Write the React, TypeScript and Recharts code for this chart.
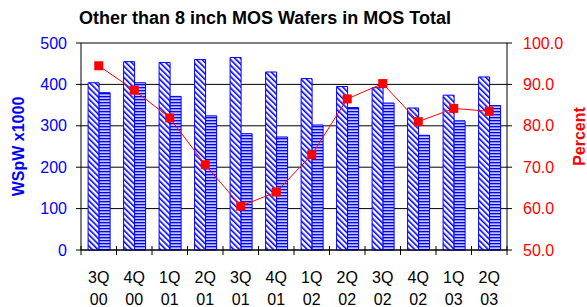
import React from 'react';
import {
  ComposedChart,
  Bar,
  Line,
  XAxis,
  YAxis,
  CartesianGrid,
} from 'recharts';

const QUARTERS = ['3Q 00', '4Q 00', '1Q 01', '2Q 01', '3Q 01', '4Q 01', '1Q 02', '2Q 02', '3Q 02', '4Q 02', '1Q 03', '2Q 03'];
const CAPACITY = [404, 455, 453, 460, 465, 430, 414, 395, 392, 343, 374, 418];
const STARTS = [380, 404, 371, 324, 281, 273, 302, 344, 355, 277, 312, 349];
const PERCENT = [94.5, 88.6, 81.9, 70.6, 60.6, 64.0, 73.0, 86.5, 90.2, 81.0, 84.2, 83.5];
const LEFT_TICKS = [0, 100, 200, 300, 400, 500];
const RIGHT_TICKS = [50, 60, 70, 80, 90, 100];

const data = QUARTERS.map((q, i) => ({
  quarter: q,
  capacity: CAPACITY[i],
  starts: STARTS[i],
  percent: PERCENT[i],
}));

const FONT = '"Liberation Sans", Arial, sans-serif';
const BLUE = '#0000ff';
const RED = '#ff0000';
const AXIS_Y = 250;
const BAND = (507 - 81) / QUARTERS.length;

function QuarterTick({ x, payload, index }: any) {
  const [top, bottom] = String(payload.value).split(' ');
  const last = index === QUARTERS.length - 1;
  return (
    <g>
      <line x1={x - BAND / 2} x2={x - BAND / 2} y1={AXIS_Y - 4} y2={AXIS_Y + 5} stroke="#000" />
      {last && <line x1={x + BAND / 2} x2={x + BAND / 2} y1={AXIS_Y - 4} y2={AXIS_Y + 5} stroke="#000" />}
      <text x={x} y={AXIS_Y + 33} textAnchor="middle" fill="#000" fontSize={16} fontFamily={FONT}>
        {top}
      </text>
      <text x={x} y={AXIS_Y + 55} textAnchor="middle" fill="#000" fontSize={16} fontFamily={FONT}>
        {bottom}
      </text>
    </g>
  );
}

function SquareDot({ cx, cy }: any) {
  if (cx == null || cy == null) return null;
  return <rect x={cx - 4.5} y={cy - 4.5} width={9} height={9} fill={RED} />;
}

function AxisTitle({ viewBox, text, color, posX, shiftY = 0 }: any) {
  const cy = viewBox.y + viewBox.height / 2 + shiftY;
  return (
    <text
      x={posX}
      y={cy}
      transform={`rotate(-90 ${posX} ${cy})`}
      textAnchor="middle"
      dominantBaseline="central"
      fill={color}
      fontSize={16}
      fontWeight="bold"
      fontFamily={FONT}
    >
      {text}
    </text>
  );
}

export default function App() {
  return (
    <div style={{ position: 'absolute', left: 0, top: 0, width: 587, height: 307, background: '#fff' }}>
      <div
        style={{
          position: 'absolute',
          left: 0,
          top: 8,
          width: 530,
          textAlign: 'center',
          fontFamily: FONT,
          fontWeight: 'bold',
          fontSize: 18,
          color: '#000',
        }}
      >
        Other than 8 inch MOS Wafers in MOS Total
      </div>
      <ComposedChart
        width={587}
        height={307}
        data={data}
        margin={{ top: 43, right: 0, bottom: 0, left: 0 }}
        barCategoryGap="20%"
        barGap={0}
      >
        <defs>
          <pattern id="diag" width="4" height="4" patternUnits="userSpaceOnUse" patternTransform="rotate(-45)">
            <rect width="4" height="4" fill="#fff" />
            <rect width="1.6" height="4" fill={BLUE} />
          </pattern>
          <pattern id="horiz" width="3" height="3" patternUnits="userSpaceOnUse">
            <rect width="3" height="3" fill="#c4c4ff" />
            <rect width="3" height="1.3" fill={BLUE} />
          </pattern>
        </defs>
        <CartesianGrid yAxisId="left" vertical={false} stroke="#000" />
        <XAxis
          dataKey="quarter"
          height={57}
          axisLine={{ stroke: '#000' }}
          tickLine={false}
          tick={<QuarterTick />}
          interval={0}
        />
        <YAxis
          yAxisId="left"
          width={81}
          domain={[0, 500]}
          ticks={LEFT_TICKS}
          axisLine={{ stroke: '#000' }}
          tickLine={{ stroke: '#000' }}
          tickSize={5}
          tickMargin={9}
          tick={{ fill: BLUE, fontSize: 16, fontFamily: FONT }}
          label={<AxisTitle text="WSpW x1000" color={BLUE} posX={18} />}
        />
        <YAxis
          yAxisId="right"
          orientation="right"
          width={80}
          domain={[50, 100]}
          ticks={RIGHT_TICKS}
          tickFormatter={(v: number) => v.toFixed(1)}
          axisLine={{ stroke: '#000' }}
          tickLine={{ stroke: '#000' }}
          tickSize={5}
          tickMargin={11}
          tick={{ fill: RED, fontSize: 16, fontFamily: FONT }}
          label={<AxisTitle text="Percent" color={RED} posX={579} shiftY={-10} />}
        />
        <Bar yAxisId="left" dataKey="capacity" fill="url(#diag)" stroke={BLUE} strokeWidth={1} isAnimationActive={false} />
        <Bar yAxisId="left" dataKey="starts" fill="url(#horiz)" stroke={BLUE} strokeWidth={1} isAnimationActive={false} />
        <Line
          yAxisId="right"
          dataKey="percent"
          stroke={RED}
          strokeWidth={1}
          dot={<SquareDot />}
          activeDot={false}
          isAnimationActive={false}
        />
      </ComposedChart>
    </div>
  );
}
